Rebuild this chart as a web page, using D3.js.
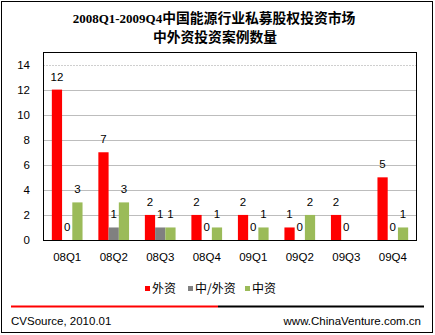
<!DOCTYPE html>
<html><head><meta charset="utf-8">
<script src="https://cdn.jsdelivr.net/npm/d3@7"></script>
<style>body{margin:0;background:#fff}svg{display:block}</style>
</head><body>
<script>
const categories = ["08Q1","08Q2","08Q3","08Q4","09Q1","09Q2","09Q3","09Q4"];
const seriesNames = ["外资","中/外资","中资"];
const foreign = [12,7,2,2,2,1,2,5];
const joint = [0,1,1,0,0,0,0,0];
const domestic = [3,3,1,1,1,2,null,1];
const yTicks = [0,2,4,6,8,10,12,14];
const titlePeriod = "2008Q1-2009Q4";
const titleLines = ["中国能源行业私募股权投资市场","中外资投资案例数量"];
const colors = ["#FF0000","#808080","#9BBB59"];

const W = 435, H = 335;
const svg = d3.select("body").append("svg").attr("width", W).attr("height", H);
const fontLatin = "Arial, 'Liberation Sans', sans-serif";
const fontCJK = "'Noto Sans CJK SC', sans-serif";

svg.append("rect").attr("x",1.5).attr("y",1.5).attr("width",431).attr("height",331)
  .attr("fill","#fff").attr("stroke","#000");

const t1 = svg.append("text").attr("x",214).attr("y",22.5).attr("text-anchor","middle")
  .attr("font-weight","bold").attr("font-size",13.8);
t1.append("tspan").attr("font-family","'Liberation Serif', serif").attr("font-size",13).text(titlePeriod);
t1.append("tspan").attr("font-family",fontCJK).text(titleLines[0]);
svg.append("text").attr("x",215).attr("y",42).attr("text-anchor","middle")
  .attr("font-family",fontCJK).attr("font-weight","bold").attr("font-size",13.8).text(titleLines[1]);

const L=43, R=417, T=52, B=240;
const x0 = d3.scaleBand().domain(categories).range([L,R]).paddingInner(0.34).paddingOuter(0.19);
const x1 = d3.scaleBand().domain([0,1,2]).range([0,x0.bandwidth()]);
const y = d3.scaleLinear().domain([0,15]).range([B,T]);

// gridlines
svg.append("g").selectAll("line").data(yTicks.filter(d=>d>0)).join("line")
  .attr("x1",L).attr("x2",R).attr("y1",d=>Math.round(y(d))+0.5).attr("y2",d=>Math.round(y(d))+0.5)
  .attr("stroke",d=>d===14?"#cfcfcf":"#bdbdbd").attr("stroke-width",1)
  .attr("stroke-dasharray",d=>d===14?"2,1":null);

// y axis labels
const yAxis = d3.axisLeft(y).tickValues(yTicks).tickSize(0).tickPadding(13);
const ya = svg.append("g").attr("transform",`translate(${L},0)`).call(yAxis);
ya.select(".domain").remove();
ya.selectAll("text").attr("font-family",fontLatin).attr("font-size",11.5).attr("fill","#000");

const series = [foreign, joint, domestic];
series.forEach((vals,s)=>{
  const g = svg.append("g");
  g.selectAll("rect").data(vals.map((v,i)=>({v,c:categories[i]})).filter(d=>d.v!==null)).join("rect")
    .attr("x",d=>x0(d.c)+x1(s)).attr("width",x1.bandwidth())
    .attr("y",d=>y(d.v)).attr("height",d=>B-y(d.v)).attr("fill",colors[s]);
  g.selectAll("text").data(vals.map((v,i)=>({v,c:categories[i]})).filter(d=>d.v!==null)).join("text")
    .attr("x",d=>x0(d.c)+x1(s)+x1.bandwidth()/2).attr("y",d=>y(d.v)-9)
    .attr("text-anchor","middle").attr("font-family",fontLatin).attr("font-size",11.5)
    .text(d=>d.v);
});

// plot frame
svg.append("rect").attr("x",L+0.5).attr("y",T+0.5).attr("width",R-L-1).attr("height",B-T)
  .attr("fill","none").attr("stroke","#000");

// x axis labels
const xAxis = d3.axisBottom(x0).tickSize(0).tickPadding(13);
const xa = svg.append("g").attr("transform",`translate(0,${B})`).call(xAxis);
xa.select(".domain").remove();
xa.selectAll("text").attr("font-family",fontLatin).attr("font-size",11.5).attr("fill","#000");

// legend
const legX = [145, 188, 245];
seriesNames.forEach((n,i)=>{
  svg.append("rect").attr("x",legX[i]).attr("y",286).attr("width",5).attr("height",5).attr("fill",colors[i]);
  svg.append("text").attr("x",legX[i]+7).attr("y",293).attr("font-family",fontCJK)
    .attr("font-size",12).text(n);
});

// footer line
svg.append("line").attr("x1",11).attr("x2",218).attr("y1",306.5).attr("y2",306.5).attr("stroke","#FF0000").attr("stroke-width",2);
svg.append("line").attr("x1",218).attr("x2",424).attr("y1",306.5).attr("y2",306.5).attr("stroke","#000").attr("stroke-width",2);
svg.append("text").attr("x",11).attr("y",325).attr("font-family",fontLatin).attr("font-size",11.5).text("CVSource, 2010.01");
svg.append("text").attr("x",421).attr("y",325).attr("text-anchor","end").attr("font-family",fontLatin).attr("font-size",11.5).text("www.ChinaVenture.com.cn");
</script>
</body></html>
